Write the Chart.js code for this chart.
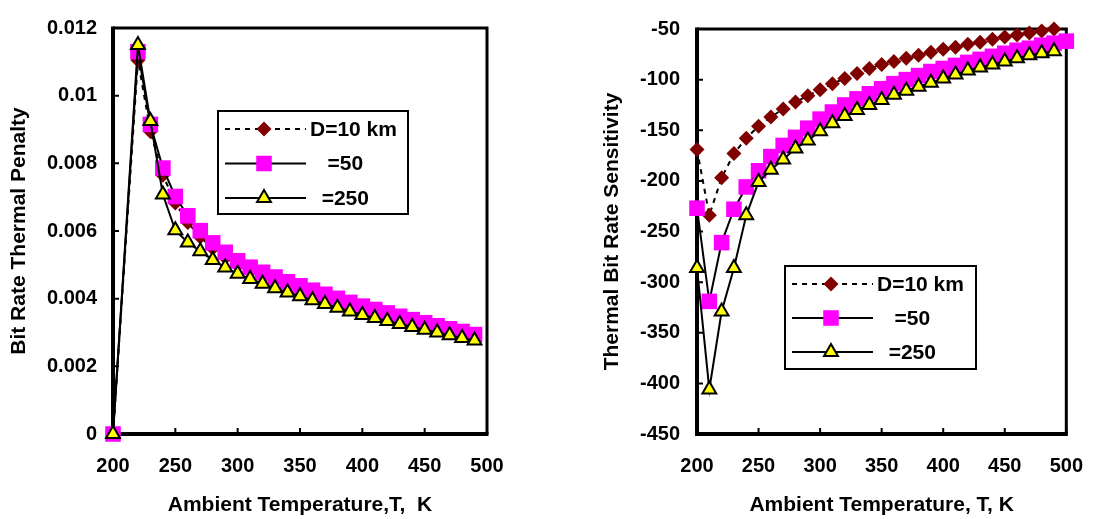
<!DOCTYPE html>
<html>
<head>
<meta charset="utf-8">
<title>Bit rate thermal penalty and sensitivity</title>
<script src="https://cdn.jsdelivr.net/npm/chart.js@4.4.1/dist/chart.umd.min.js"></script>
<style>
    body { margin: 0; background: #fff; width: 1103px; height: 519px; overflow: hidden; position: relative; }
    .panel { position: absolute; top: 0; height: 519px; }
</style>
</head>
<body>
<div class="panel" style="left:0;width:540px"><canvas id="penaltyChart"></canvas></div>
<div class="panel" style="left:590px;width:513px"><canvas id="sensitivityChart"></canvas></div>

<script>
// ---- data ----
const seriesLabels = ["D=10 km", "   =50", "  =250"];
const tempTicks = ["200", "250", "300", "350", "400", "450", "500"];

// left panel: bit rate thermal penalty
const penaltyTemps = [200, 220, 230, 240, 250, 260, 270, 280, 290, 300, 310, 320, 330, 340, 350,
    360, 370, 380, 390, 400, 410, 420, 430, 440, 450, 460, 470, 480, 490];
const penaltyD10 = [0, 0.01105, 0.00894, 0.00765, 0.00683, 0.00625, 0.00582, 0.00549, 0.00522, 0.00498,
    0.00479, 0.00464, 0.00450, 0.00436, 0.00424, 0.00412, 0.00400, 0.00389, 0.00378, 0.00367,
    0.00357, 0.00348, 0.00339, 0.00330, 0.00321, 0.00313, 0.00305, 0.00297, 0.00287];
const penaltyD50 = [0, 0.01130, 0.00915, 0.00786, 0.00702, 0.00645, 0.00601, 0.00565, 0.00537, 0.00512,
    0.00493, 0.00478, 0.00464, 0.00450, 0.00438, 0.00425, 0.00413, 0.00401, 0.00389, 0.00378,
    0.00368, 0.00358, 0.00348, 0.00338, 0.00329, 0.00320, 0.00311, 0.00303, 0.00294];
const penaltyD250 = [0, 0.01150, 0.00925, 0.00708, 0.00602, 0.00566, 0.00540, 0.00514, 0.00492, 0.00474,
    0.00458, 0.00444, 0.00431, 0.00418, 0.00407, 0.00395, 0.00384, 0.00373, 0.00362, 0.00352,
    0.00343, 0.00334, 0.00325, 0.00316, 0.00308, 0.00300, 0.00292, 0.00284, 0.00276];
const penaltyTicks = ["0", "0.002", "0.004", "0.006", "0.008", "0.01", "0.012"];

// right panel: thermal bit rate sensitivity
const sensTemps = [200, 210, 220, 230, 240, 250, 260, 270, 280, 290, 300, 310, 320, 330, 340, 350,
    360, 370, 380, 390, 400, 410, 420, 430, 440, 450, 460, 470, 480, 490, 500];
const sensD10 = [-169, -234, -197, -173, -158, -146, -137, -129, -122, -116, -110, -104, -99, -94, -89,
    -85, -82, -79, -76, -73, -70, -68, -65, -63, -60, -58, -56, -54, -52, -50];
const sensD50 = [-227, -319, -261, -228, -206, -190, -176, -165, -157, -148, -139, -132, -125, -119, -114,
    -109, -104, -100, -96, -92, -89, -86, -83, -80, -77, -74, -71, -69, -66, -64, -62];
const sensD250 = [-286, -406, -329, -286, -234, -201, -189, -179, -168, -160, -151, -143, -136, -130, -125,
    -120, -115, -111, -107, -103, -99, -95, -91, -88, -85, -82, -79, -76, -74, -72];
const sensTicks = ["-450", "-400", "-350", "-300", "-250", "-200", "-150", "-100", "-50"];

// ---- styling ----
const FONT = '"Liberation Sans", Arial, Helvetica, sans-serif';
Chart.defaults.font.family = FONT;
Chart.defaults.font.weight = "bold";
Chart.defaults.color = "#000";

const markers = [
    { style: "rectRot", radius: 7.5, fill: "#800000", stroke: "#800000", width: 0, dash: [5, 5] },
    { style: "rect", radius: 11, fill: "#ff00ff", stroke: "#ff00ff", width: 0, dash: [] },
    { style: "triangle", radius: 8, fill: "#ffff00", stroke: "#000", width: 2, dash: [] }
];

function makeDatasets(temps, seriesList) {
    return seriesList.map((values, i) => {
        const m = markers[i];
        return {
            label: seriesLabels[i],
            data: values.map((v, j) => ({ x: temps[j], y: v })),
            borderColor: "#000",
            borderWidth: 2,
            borderDash: m.dash,
            pointStyle: m.style,
            pointRadius: m.radius,
            pointHoverRadius: m.radius,
            pointBackgroundColor: m.fill,
            pointBorderColor: m.stroke,
            pointBorderWidth: m.width,
            tension: 0,
            fill: false,
            clip: false,
            order: 3 - i
        };
    });
}

function drawMarker(ctx, m, x, y) {
    const r = m.radius;
    ctx.beginPath();
    if (m.style === "rect") {
        const s = r * Math.SQRT1_2;
        ctx.rect(x - s, y - s, 2 * s, 2 * s);
    } else if (m.style === "rectRot") {
        ctx.moveTo(x - r, y); ctx.lineTo(x, y - r); ctx.lineTo(x + r, y); ctx.lineTo(x, y + r);
        ctx.closePath();
    } else {
        const a = 2 * Math.PI / 3;
        ctx.moveTo(x, y - r);
        ctx.lineTo(x + Math.sin(a) * r, y - Math.cos(a) * r);
        ctx.lineTo(x + Math.sin(2 * a) * r, y - Math.cos(2 * a) * r);
        ctx.closePath();
    }
    ctx.fillStyle = m.fill;
    ctx.fill();
    if (m.width > 0) {
        ctx.lineWidth = m.width;
        ctx.strokeStyle = m.stroke;
        ctx.stroke();
    }
}

// frame around the plot area with short inward tick marks
const framePlugin = {
    id: "frame",
    beforeDatasetsDraw(chart) {
        const { ctx, chartArea: a, scales: { x, y } } = chart;
        ctx.save();
        ctx.strokeStyle = "#000";
        ctx.lineWidth = 2;
        ctx.beginPath();
        x.ticks.forEach(t => {
            const px = x.getPixelForValue(t.value);
            ctx.moveTo(px, a.bottom);
            ctx.lineTo(px, a.bottom - 6);
        });
        y.ticks.forEach(t => {
            const py = y.getPixelForValue(t.value);
            ctx.moveTo(a.left, py);
            ctx.lineTo(a.left + 6, py);
        });
        ctx.stroke();

        ctx.lineWidth = 3;
        ctx.beginPath();
        ctx.moveTo(a.left, a.top);
        ctx.lineTo(a.right, a.top);
        ctx.lineTo(a.right, a.bottom);
        ctx.stroke();

        ctx.lineWidth = 4;
        ctx.beginPath();
        ctx.moveTo(a.left, a.top - 1.5);
        ctx.lineTo(a.left, a.bottom);
        ctx.lineTo(a.right + 1.5, a.bottom);
        ctx.stroke();
        ctx.restore();
    }
};

// boxed legend sitting inside the plot area
const boxLegendPlugin = {
    id: "boxLegend",
    afterDatasetsDraw(chart, args, opts) {
        const { ctx, chartArea: a } = chart;
        const bx = a.left + opts.left;
        const by = a.top + opts.top;
        ctx.save();
        ctx.fillStyle = "#fff";
        ctx.fillRect(bx, by, opts.width, opts.height);
        ctx.lineWidth = 2;
        ctx.strokeStyle = "#000";
        ctx.strokeRect(bx, by, opts.width, opts.height);

        ctx.font = "bold 21px " + FONT;
        ctx.textBaseline = "middle";
        ctx.textAlign = "left";
        chart.data.datasets.forEach((ds, i) => {
            const ry = by + opts.rows[i];
            ctx.setLineDash(ds.borderDash);
            ctx.lineWidth = 2;
            ctx.strokeStyle = "#000";
            ctx.beginPath();
            ctx.moveTo(bx + 7, ry);
            ctx.lineTo(bx + 88, ry);
            ctx.stroke();
            ctx.setLineDash([]);
            drawMarker(ctx, markers[i], bx + 46, ry);
            ctx.fillStyle = "#000";
            ctx.fillText(ds.label, bx + 92, ry + 1);
        });
        ctx.restore();
    }
};

function makeChart(id, datasets, cfg) {
    return new Chart(document.getElementById(id), {
        type: "line",
        data: { datasets },
        plugins: [framePlugin, boxLegendPlugin],
        options: {
            responsive: true,
            maintainAspectRatio: false,
            animation: false,
            events: [],
            layout: { padding: cfg.padding },
            plugins: {
                legend: { display: false },
                tooltip: { enabled: false },
                boxLegend: cfg.legend
            },
            scales: {
                x: {
                    type: "linear",
                    min: 200,
                    max: 500,
                    grid: { display: false, drawTicks: false },
                    border: { display: false },
                    ticks: {
                        stepSize: 50,
                        autoSkip: false,
                        maxRotation: 0,
                        padding: 20,
                        font: { size: 20, weight: "bold" },
                        callback: (v, i) => tempTicks[i]
                    },
                    title: {
                        display: true,
                        text: cfg.xTitle,
                        font: { size: 21, weight: "bold" },
                        padding: { top: 0, bottom: 1 }
                    },
                    afterFit: s => { s.height = 85; }
                },
                y: {
                    type: "linear",
                    min: cfg.yMin,
                    max: cfg.yMax,
                    grid: { display: false, drawTicks: false },
                    border: { display: false },
                    ticks: {
                        stepSize: cfg.yStep,
                        autoSkip: false,
                        padding: cfg.yPad,
                        font: { size: 20, weight: "bold" },
                        callback: (v, i) => cfg.yTicks[i]
                    },
                    title: {
                        display: true,
                        text: cfg.yTitle,
                        font: { size: 21, weight: "bold" },
                        padding: { top: cfg.yTitlePad, bottom: 0 }
                    },
                    afterFit: s => { s.width = cfg.yWidth; }
                }
            }
        }
    });
}

makeChart("penaltyChart", makeDatasets(penaltyTemps, [penaltyD10, penaltyD50, penaltyD250]), {
    padding: { left: 0, right: 53, top: 17, bottom: 0 },
    xTitle: "Ambient Temperature,T,  K",
    yTitle: "Bit Rate Thermal Penalty",
    yMin: 0, yMax: 0.012, yStep: 0.002,
    yTicks: penaltyTicks,
    yPad: 16, yWidth: 113, yTitlePad: 7,
    legend: { left: 105, top: 83, width: 190, height: 103, rows: [18, 52.5, 87] }
});

makeChart("sensitivityChart", makeDatasets(sensTemps, [sensD10, sensD50, sensD250]), {
    padding: { left: 0, right: 20, top: 17, bottom: 0 },
    xTitle: "Ambient Temperature, T, K",
    yTitle: "Thermal Bit Rate Sensitivity",
    yMin: -450, yMax: -50, yStep: 50,
    yTicks: sensTicks,
    yPad: 17, yWidth: 107, yTitlePad: 10,
    legend: { left: 88, top: 237, width: 191, height: 103, rows: [18, 52, 86] }
});
</script>
</body>
</html>
